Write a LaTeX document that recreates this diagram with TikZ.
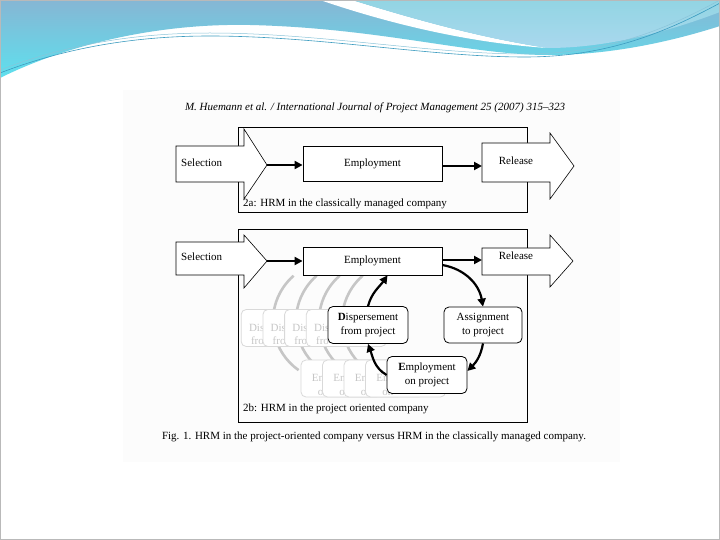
\documentclass[tikz,border=0pt]{standalone}
\usepackage{fontspec}
\setmainfont{Liberation Serif}
\usetikzlibrary{arrows.meta}
\definecolor{hdrtop}{HTML}{86B6D4}
\definecolor{hdrbot}{HTML}{5EE0EE}
\definecolor{hdrltop}{HTML}{92D5E3}
\definecolor{hdrlbot}{HTML}{AAD8EE}
\definecolor{hdrline}{HTML}{3C9CC0}
\definecolor{pagebg}{HTML}{FCFCFC}
\newcommand\dfont{\fontsize{11}{13.5}\selectfont}
\begin{document}
\begin{tikzpicture}[x=1pt,y=1pt,
  outerbox/.style={draw=black, line width=0.8pt},
  blockarrow/.style={draw=black, fill=white, line width=0.6pt},
  sqbox/.style={draw=black, fill=white, line width=0.8pt, inner sep=0pt, font=\dfont},
  rbox/.style={draw=black, fill=white, line width=0.8pt, rounded corners=5pt, align=center, font=\dfont, inner sep=0pt, minimum width=80pt, minimum height=37pt},
  ghost/.style={rbox, draw=gray!30},
  ghosttxt/.style={font=\dfont, text=gray!45, inner sep=0pt, anchor=base west},
  ghostarc/.style={draw=gray!45, line width=2.6pt},
  flow/.style={-{Triangle[length=8pt,width=8pt]}, line width=2.2pt},
  txt/.style={font=\dfont, inner sep=0pt}
]
\useasboundingbox (0,0) rectangle (720,-540);
\fill[white] (0,0) rectangle (720,-540);
\fill[pagebg] (123,-90) rectangle (620,-462);
% header waves
\shade[top color=hdrtop, bottom color=hdrbot] (0,0) -- (720,0) -- (720,-26) .. controls (670,-42) and (610,-55) .. (548,-55) .. controls (470,-55) and (380,-28) .. (250,-25) .. controls (150,-23) and (60,-48) .. (0,-78) -- cycle;
\fill[white] (320,0) .. controls (390,-24) and (470,-43) .. (548,-48) .. controls (480,-38) and (410,-18) .. (352,0) -- cycle;
\shade[top color=hdrltop, bottom color=hdrlbot] (352,0) -- (720,0) -- (720,-12) .. controls (660,-35) and (600,-48) .. (548,-48) .. controls (480,-38) and (410,-18) .. (352,0) -- cycle;
\draw[hdrline, line width=0.6pt] (0,-73) .. controls (70,-46) and (140,-36) .. (210,-36) .. controls (320,-36) and (430,-57) .. (525,-57) .. controls (610,-57) and (670,-30) .. (720,-3);
\draw[hdrline!60!white, line width=0.5pt] (0,-70) .. controls (70,-43) and (140,-33) .. (210,-33) .. controls (320,-33) and (430,-54) .. (525,-54) .. controls (610,-54) and (670,-27) .. (720,0);
\draw[gray!55, line width=0.6pt] (0.3,-0.3) rectangle (719.7,-539.7);

% header text
\node[txt, font=\dfont\itshape] (hdr) at (375,-108) {M. Huemann et al. / International Journal of Project Management 25 (2007) 315--323};

% ---------- 2a ----------
\draw[outerbox] (238,-127) rectangle (527,-212);
\draw[blockarrow] (176,-146) -- (244,-146) -- (244,-129) -- (267,-165) -- (244,-199) -- (244,-182) -- (176,-182) -- cycle;
\coordinate (selAtip) at (267,-165);
\node[txt, anchor=west] (selA) at (181,-163) {Selection};
\node[sqbox, minimum width=139pt, minimum height=35pt] (empA) at (372.5,-164) {Employment};
\draw[blockarrow] (482,-143) -- (550,-143) -- (550,-133) -- (574,-166) -- (550,-199) -- (550,-182) -- (482,-182) -- cycle;
\coordinate (relAin) at (482,-166);
\node[txt] (relA) at (516,-161) {Release};
\draw[flow] (selAtip) -- (selAtip -| empA.west);
\draw[flow] (empA.east |- relAin) -- (relAin);
\node[txt, anchor=west] (labA) at (243,-204) {2a: HRM in the classically managed company};

% ---------- 2b ----------
\draw[outerbox] (238,-229) rectangle (527,-422);
\draw[blockarrow] (176,-242) -- (244,-242) -- (244,-235) -- (267,-261) -- (244,-288) -- (244,-275) -- (176,-275) -- cycle;
\coordinate (selBtip) at (267,-261);
\node[txt, anchor=west] (selB) at (181,-257) {Selection};
\draw[blockarrow] (482,-248) -- (550,-248) -- (550,-235) -- (573,-261) -- (550,-287) -- (550,-275) -- (482,-275) -- cycle;
\coordinate (relBin) at (482,-260);
\node[txt] (relB) at (516,-256) {Release};

% ghost cycles
\foreach \k in {1,...,4}
  \draw[ghostarc] ({425-23*\k},-321) ++(131:60) arc[start angle=131, end angle=235, radius=60];
\foreach \k in {4,3,2,1}{
  \node[ghost] (gd\k) at ({368-21.7*\k},-328) {};
  \node[ghosttxt] (gdt\k) at ([xshift=8pt,yshift=-3pt]gd\k.west) {Dis};
  \node[ghosttxt] (gdu\k) at ([xshift=10pt,yshift=-16.5pt]gd\k.west) {fro};
}
\foreach \k in {4,3,2,1}{
  \node[ghost] (ge\k) at ({427-21.5*\k},-378.5) {};
  \node[ghosttxt] (get\k) at ([xshift=11pt,yshift=-3pt]ge\k.west) {Em};
  \node[ghosttxt] (geu\k) at ([xshift=17pt,yshift=-16.5pt]ge\k.west) {on};
}

% front cycle
\node[rbox] (disp) at (368,-325) {\textbf{D}ispersement\\from project};
\node[rbox] (eop) at (427,-375) {\textbf{E}mployment\\on project};
\node[rbox, minimum width=78pt, minimum height=36pt] (asg) at (483,-325) {Assignment\\to project};
\node[sqbox, minimum width=139pt, minimum height=28pt] (empB) at (372.5,-261) {Employment};

\draw[flow] (selBtip) -- (selBtip -| empB.west);
\draw[flow] (empB.east |- relBin) -- (relBin);
\draw[flow] ([yshift=-4pt]empB.east) to[out=-10, in=100] (asg.north);
\draw[flow] (asg.south) to[out=-100, in=45] ([yshift=4pt]eop.east);
\draw[flow] (eop.west) to[out=150, in=-70] (disp.south);
\draw[flow] (disp.north) to[out=75, in=-125] ([xshift=15pt]empB.south);

\node[txt, anchor=west] (labB) at (243,-409) {2b: HRM in the project oriented company};

% caption
\node[txt] (cap) at (374,-437) {Fig. 1. HRM in the project-oriented company versus HRM in the classically managed company.};
\end{tikzpicture}
\end{document}
